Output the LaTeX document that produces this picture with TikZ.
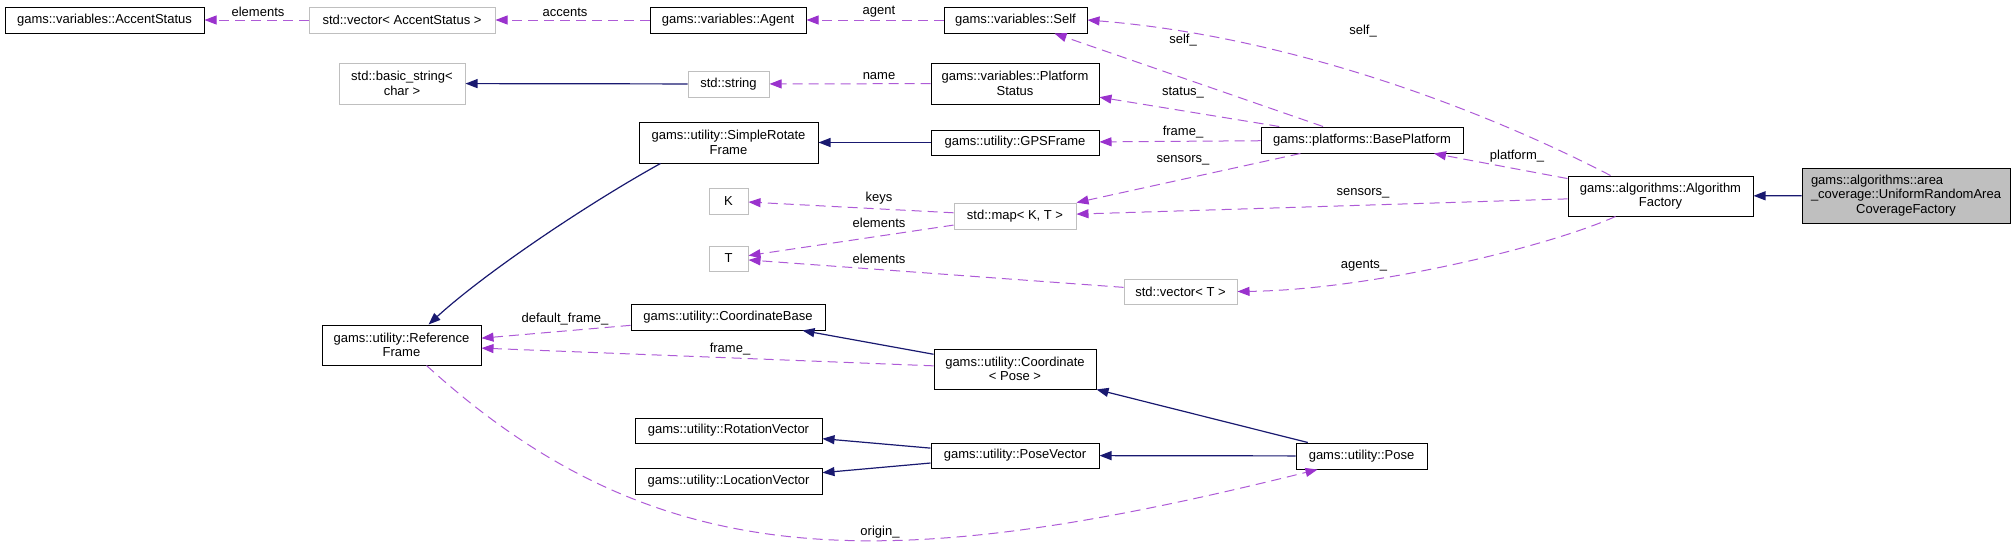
\documentclass[tikz,border=0pt]{standalone}
\usepackage{fontspec}
\setmainfont{Liberation Sans}
\usepackage{xcolor}
\usetikzlibrary{arrows.meta}

\definecolor{edgeblue}{HTML}{191970}
\definecolor{edgepurple}{HTML}{9A32CD}
\definecolor{extgray}{HTML}{BFBFBF}

\begin{document}
\begin{tikzpicture}[
  x=1pt, y=-1pt,
  cls/.style={rectangle, draw=black, line width=1pt, fill=white, inner sep=0pt,
              align=center, font=\fontsize{13}{14.5}\selectfont},
  ext/.style={cls, draw=extgray},
  main/.style={cls, fill=extgray},
  one/.style={minimum height=26pt},
  two/.style={minimum height=41pt},
  inh/.style={-{Triangle[length=12pt,width=9pt]}, draw=edgeblue, line width=1.2pt},
  dep/.style={-{Triangle[length=12pt,width=9pt,color=edgepurple]}, draw=edgepurple!80,
              line width=1pt, dash pattern=on 10pt off 6pt},
  lbl/.style={font=\fontsize{13}{14.5}\selectfont, inner sep=0pt}
]
  \useasboundingbox (0,0) rectangle (2015,546);

  % top rows
  \node[cls, one, minimum width=199pt] (acc) at (104.5,20) {gams::variables::AccentStatus};
  \node[ext, one, minimum width=186pt] (vacc) at (402,20) {std::vector< AccentStatus >};
  \node[cls, one, minimum width=156pt] (agent) at (728,20) {gams::variables::Agent};
  \node[cls, one, minimum width=143pt] (self) at (1015.5,20) {gams::variables::Self};
  \node[ext, two, minimum width=126pt] (bstr) at (402,83.5) {std::basic\_string<\\char >};
  \node[ext, one, minimum width=81pt] (str) at (728.5,84) {std::string};
  \node[cls, two, minimum width=168pt] (pstat) at (1015,83.5) {gams::variables::Platform\\Status};
  \node[cls, two, minimum width=179pt] (srf) at (728.5,142.5) {gams::utility::SimpleRotate\\Frame};
  \node[cls, minimum height=25pt, minimum width=168pt] (gps) at (1015,142.5) {gams::utility::GPSFrame};
  \node[cls, one, minimum width=202pt] (base) at (1362,140) {gams::platforms::BasePlatform};
  \node[cls, minimum height=40pt, minimum width=185pt] (alg) at (1660.5,196) {gams::algorithms::Algorithm\\Factory};
  \node[main, minimum height=55pt, minimum width=208pt] (urac) at (1906,195.5)
    {\rlap{gams::algorithms::area}\phantom{\_coverage::UniformRandomArea}\\\_coverage::UniformRandomArea\\CoverageFactory};

  % templates
  \node[ext, one, minimum width=39pt] (K) at (728.5,201) {K};
  \node[ext, minimum height=25pt, minimum width=39pt] (T) at (728.5,258.5) {T};
  \node[ext, one, minimum width=122pt] (map) at (1015,216) {std::map< K, T >};
  \node[ext, minimum height=25pt, minimum width=113pt] (vecT) at (1180.5,291.5) {std::vector< T >};

  % lower part
  \node[cls, one, minimum width=194pt] (cbase) at (728,317) {gams::utility::CoordinateBase};
  \node[cls, minimum height=40pt, minimum width=159pt] (rframe) at (401.5,345) {gams::utility::Reference\\Frame};
  \node[cls, minimum height=40pt, minimum width=162pt] (coord) at (1015,369) {gams::utility::Coordinate\\< Pose >};
  \node[cls, minimum height=25pt, minimum width=187pt] (rot) at (728.5,430.5) {gams::utility::RotationVector};
  \node[cls, one, minimum width=187pt] (loc) at (728.5,481) {gams::utility::LocationVector};
  \node[cls, minimum height=25pt, minimum width=168pt] (pvec) at (1015,455.5) {gams::utility::PoseVector};
  \node[cls, one, minimum width=131pt] (pose) at (1361.5,456) {gams::utility::Pose};

  % inheritance
  \draw[inh] (urac) -- (alg);
  \draw[inh] (str) -- (bstr);
  \draw[inh] (gps) -- (srf);
  \draw[inh] ([xshift=22pt]srf.south west) .. controls (589,203) and (486,272) .. ([xshift=27pt]rframe.north);
  \draw[inh] (coord) -- (cbase);
  \draw[inh] (pose) -- (coord);
  \draw[inh] (pose) -- (pvec);
  \draw[inh] (pvec) -- (rot);
  \draw[inh] (pvec) -- (loc);

  % usage
  \draw[dep] (vacc) -- (acc) node[lbl] at (258,12) {elements};
  \draw[dep] (agent) -- (vacc) node[lbl] at (565,12) {accents};
  \draw[dep] (self) -- (agent) node[lbl] at (879,12) {agent};
  \draw[dep] (base) -- (self) node[lbl] at (1183,40) {self\_};
  \draw[dep] ([xshift=-50pt]alg.north) .. controls (1480,108) and (1287,36) .. (self.east)
    node[lbl] at (1363,31) {self\_};
  \draw[dep] (pstat) -- (str) node[lbl] at (879,76) {name};
  \draw[dep] (base) -- (pstat) node[lbl] at (1183,93) {status\_};
  \draw[dep] (base) -- (gps) node[lbl] at (1183,132) {frame\_};
  \draw[dep] (base) -- (map) node[lbl] at (1183,160) {sensors\_};
  \draw[dep] (alg) -- (base) node[lbl] at (1517,156) {platform\_};
  \draw[dep] (alg) -- (map) node[lbl] at (1363,193) {sensors\_};
  \draw[dep] ([xshift=-45pt]alg.south) .. controls (1545,248) and (1367,290) .. (vecT.east)
    node[lbl] at (1364,266) {agents\_};
  \draw[dep] (map) -- (K) node[lbl] at (879,198) {keys};
  \draw[dep] (map) -- (T) node[lbl] at (879,223) {elements};
  \draw[dep] (vecT) -- (T) node[lbl] at (879,259) {elements};
  \draw[dep] (cbase) -- (rframe) node[lbl] at (565,319) {default\_frame\_};
  \draw[dep] (coord) -- (rframe) node[lbl] at (730,349) {frame\_};
  \draw[dep] ([xshift=25pt]rframe.south) .. controls (660,578) and (890,576) .. ([xshift=-44pt]pose.south)
    node[lbl] at (880,532) {origin\_};
\end{tikzpicture}
\end{document}
